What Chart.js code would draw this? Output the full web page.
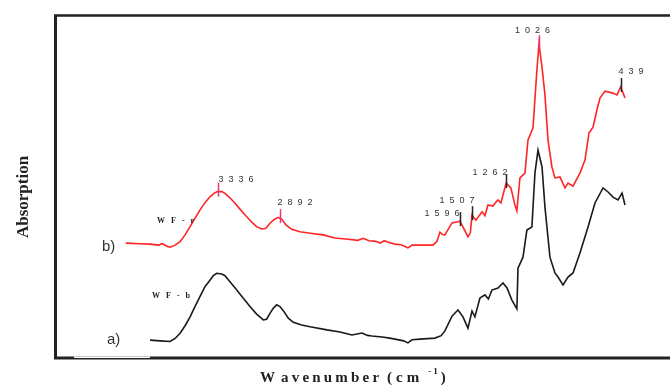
<!DOCTYPE html>
<html>
<head>
<meta charset="utf-8">
<script src="https://cdn.jsdelivr.net/npm/chart.js@4.4.0/dist/chart.umd.min.js"></script>
<style>
  html, body { margin: 0; padding: 0; background: #fff; overflow: hidden; }
  #wrap { width: 670px; height: 385px; }
</style>
</head>
<body>
<div id="wrap"><canvas id="ftir" width="670" height="385"></canvas></div>
<script>
// x axis range (cm-1), drawn reversed, no ticks shown
const X_MIN = 83;
const X_MAX = 4502;

// b) WF-r  (red, offset upward)
const wavenumberRed = [
  4000, 3900, 3825, 3760, 3740, 3700, 3681, 3645, 3609, 3573, 3537, 3502, 3466, 3430, 3394, 3365,
  3341, 3309, 3286, 3250, 3214, 3178, 3129, 3093, 3058, 3022, 2991, 2962, 2931, 2902, 2878, 2847,
  2806, 2746, 2660, 2580, 2494,
  2400, 2330, 2290, 2250, 2200, 2170, 2140, 2100, 2062, 2020, 1990, 1969, 1940, 1882, 1789, 1760,
  1739, 1720, 1703, 1652, 1609, 1596, 1573, 1537, 1520, 1508, 1480, 1436, 1415, 1393, 1357, 1335,
  1321, 1300, 1285, 1262, 1228, 1199, 1185, 1163, 1127, 1105, 1069, 1040, 1026, 1004, 983, 961,
  933, 911, 875, 839, 817, 781, 731, 695, 666, 637, 609, 587, 551, 500, 464, 439, 421, 407
];
const absorbRed = [
  33.5, 33.3, 33.2, 32.9, 33.4, 32.5, 32.3, 32.9, 33.9, 35.9, 38.3, 40.7, 43.1, 45.3, 47.0, 48.0,
  48.5, 48.5, 48.0, 46.7, 45.1, 43.4, 41.2, 39.6, 38.3, 37.6, 37.8, 39.3, 40.4, 41.0, 40.5, 38.8,
  37.5, 36.8, 36.3, 35.9, 35.0,
  34.6, 34.3, 34.9, 34.2, 34.0, 33.5, 34.2, 33.6, 33.2, 33.0, 32.5, 32.1, 32.9, 32.9, 32.9, 34.0,
  36.7, 36.0, 35.9, 39.4, 39.7, 39.9, 38.2, 35.3, 36.5, 41.7, 40.2, 42.6, 41.5, 44.6, 44.3, 45.5,
  46.1, 45.2, 47.5, 51.0, 49.6, 44.6, 42.9, 52.5, 53.9, 63.6, 67.1, 84.5, 91.5, 84.8, 76.7, 63.6,
  55.7, 52.5, 52.8, 49.6, 51.0, 50.1, 53.9, 57.7, 65.6, 67.3, 72.3, 75.8, 77.8, 77.3, 76.7, 79.0, 77.3, 75.8
];

// a) WF-b  (black)
const wavenumberBlack = [
  3825, 3753, 3681, 3645, 3609, 3573, 3537, 3502, 3466, 3430, 3394, 3370, 3345, 3309, 3286, 3250,
  3201, 3154, 3106, 3058, 3010, 2986, 2962, 2938, 2914, 2890, 2866, 2830, 2794, 2734, 2674, 2552,
  2458, 2372, 2300, 2260, 2228, 2156, 2100, 2062, 2000, 1969, 1940, 1882, 1775, 1730, 1703, 1652,
  1609, 1573, 1537, 1508, 1487, 1451, 1415, 1390, 1365, 1321, 1285, 1256, 1221, 1185, 1177, 1141,
  1113, 1077, 1055, 1033, 1004, 983, 947, 911, 889, 853, 817, 781, 731, 673, 623, 565,
  529, 493, 457, 428, 407
];
const absorbBlack = [
  5.2, 5.0, 4.8, 5.7, 7.2, 9.4, 12.0, 15.0, 17.9, 20.8, 22.7, 24.0, 24.7, 24.5, 24.0, 22.2,
  19.8, 17.4, 15.0, 12.8, 11.1, 11.3, 13.0, 14.5, 15.5, 15.0, 13.8, 11.6, 10.4, 9.6, 9.1, 8.2,
  7.6, 6.7, 7.3, 6.6, 6.4, 6.1, 5.8, 5.5, 5.0, 4.4, 5.3, 5.5, 5.8, 6.5, 7.9, 12.2,
  14.0, 12.0, 8.7, 13.7, 12.0, 17.5, 18.4, 17.2, 19.8, 20.4, 21.9, 20.4, 16.9, 14.3, 26.2, 29.4,
  37.3, 38.2, 53.9, 60.6, 55.7, 44.0, 29.4, 24.8, 23.6, 21.3, 23.6, 24.8, 30.6, 38.2, 45.2, 49.6,
  48.4, 46.9, 46.1, 48.1, 44.6
];

// peaks marked on the red spectrum
const peakWavenumbers = [3336, 2892, 1596, 1507, 1262, 1026, 439];
const peakLabels = ['3336', '2892', '1596', '1507', '1262', '1026', '439'];

// label placement relative to the tick top: [dx, dy, align]
const peakLabelPlace = [
  [0, -1, 'left'], [-3, -4, 'left'], [-1, 4, 'right'], [2, -3, 'right'],
  [1, 1, 'right'], [-7, -2, 'center'], [-3, -4, 'left']
];
const peakTickColors = ['#e8347c', '#e8347c', '#222', '#222', '#222', '#e8347c', '#222'];

function toPoints(xs, ys) {
  return xs.map((x, i) => ({ x, y: ys[i] }));
}

function valueAt(xs, ys, wn) {
  for (let i = 0; i < xs.length - 1; i++) {
    const a = xs[i], b = xs[i + 1];
    if (wn <= a && wn >= b) {
      const t = (a - wn) / (a - b);
      return ys[i] + t * (ys[i + 1] - ys[i]);
    }
  }
  return ys[ys.length - 1];
}

// draws text one glyph at a time with extra spacing
function drawSpaced(ctx, text, x, y, spacing, align) {
  const chars = text.split('');
  const widths = chars.map(c => ctx.measureText(c).width);
  const total = widths.reduce((s, w) => s + w, 0) + spacing * (chars.length - 1);
  let cx = x;
  if (align === 'right') cx = x - total;
  else if (align === 'center') cx = x - total / 2;
  ctx.textAlign = 'left';
  chars.forEach((c, i) => {
    ctx.fillText(c, cx, y);
    cx += widths[i] + spacing;
  });
  return cx - spacing;
}

const decorations = {
  id: 'decorations',
  afterDatasetsDraw(chart) {
    const { ctx, scales } = chart;
    const xs = scales.x, ys = scales.y;
    ctx.save();

    // frame (right side runs off the picture)
    ctx.strokeStyle = '#222';
    ctx.lineWidth = 3;
    ctx.beginPath();
    ctx.moveTo(55.5, 15);
    ctx.lineTo(55.5, 358.5);
    ctx.stroke();
    ctx.lineWidth = 2.5;
    ctx.beginPath();
    ctx.moveTo(54, 15.5);
    ctx.lineTo(670, 15.5);
    ctx.stroke();
    ctx.lineWidth = 3;
    ctx.beginPath();
    ctx.moveTo(54, 358);
    ctx.lineTo(670, 358);
    ctx.stroke();
    ctx.fillStyle = '#fff';
    ctx.fillRect(74, 356.5, 76, 1.5);

    // peak ticks and numbers
    ctx.font = '9px "Liberation Sans", Arial, sans-serif';
    ctx.textBaseline = 'alphabetic';
    peakWavenumbers.forEach((wn, i) => {
      const px = Math.round(xs.getPixelForValue(wn)) + 0.5;
      const py = ys.getPixelForValue(valueAt(wavenumberRed, absorbRed, wn));
      const top = py - 9;
      ctx.strokeStyle = peakTickColors[i];
      ctx.lineWidth = 1.5;
      ctx.beginPath();
      ctx.moveTo(px, top);
      ctx.lineTo(px, py + 5);
      ctx.stroke();
      const [dx, dy, align] = peakLabelPlace[i];
      ctx.fillStyle = '#333';
      drawSpaced(ctx, peakLabels[i], px + dx, top + dy, 5, align);
    });

    // curve names
    ctx.fillStyle = '#222';
    ctx.font = 'bold 8px "Liberation Serif", "Times New Roman", serif';
    drawSpaced(ctx, 'WF-r', 157, 223, 6, 'left');
    drawSpaced(ctx, 'WF-b', 152, 298, 6, 'left');

    ctx.font = '15px "Liberation Sans", Arial, sans-serif';
    ctx.fillStyle = '#333';
    ctx.fillText('b)', 102, 251);
    ctx.fillText('a)', 107, 344);

    // axis titles
    ctx.fillStyle = '#222';
    ctx.font = 'bold 15px "Liberation Serif", "Times New Roman", serif';
    let ex = drawSpaced(ctx, 'W', 260, 382, 0, 'left');
    ex = drawSpaced(ctx, 'avenumber', ex + 6, 382, 3.2, 'left');
    ex = drawSpaced(ctx, '(cm', ex + 8, 382, 4, 'left');
    ctx.font = 'bold 9px "Liberation Serif", "Times New Roman", serif';
    ex = drawSpaced(ctx, '-1', ex + 9, 374, 2, 'left');
    ctx.font = 'bold 15px "Liberation Serif", "Times New Roman", serif';
    ctx.fillText(')', ex + 3, 382);

    ctx.translate(28, 197);
    ctx.rotate(-Math.PI / 2);
    ctx.font = 'bold 17px "Liberation Serif", "Times New Roman", serif';
    ctx.textAlign = 'center';
    ctx.fillText('Absorption', 0, 0);

    ctx.restore();
  }
};

new Chart(document.getElementById('ftir').getContext('2d'), {
  type: 'line',
  data: {
    datasets: [
      {
        label: 'a) WF-b',
        data: toPoints(wavenumberBlack, absorbBlack),
        borderColor: '#1a1a1a',
        borderWidth: 1.6,
        pointRadius: 0,
        tension: 0,
        fill: false
      },
      {
        label: 'b) WF-r',
        data: toPoints(wavenumberRed, absorbRed),
        borderColor: '#ff2424',
        borderWidth: 1.6,
        pointRadius: 0,
        tension: 0,
        fill: false
      }
    ]
  },
  options: {
    responsive: false,
    devicePixelRatio: 1,
    animation: false,
    layout: { padding: { left: 56, top: 15, right: 0, bottom: 27 } },
    plugins: { legend: { display: false }, tooltip: { enabled: false } },
    scales: {
      x: { type: 'linear', reverse: true, min: X_MIN, max: X_MAX, display: false },
      y: { min: 0, max: 100, display: false }
    }
  },
  plugins: [decorations]
});
</script>
</body>
</html>
